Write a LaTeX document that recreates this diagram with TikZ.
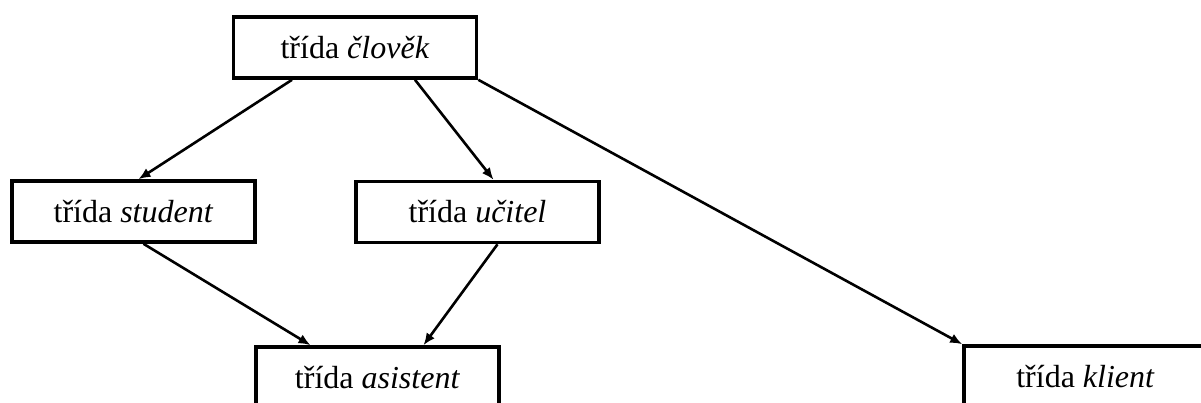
\documentclass[tikz,border=0pt]{standalone}
\usepackage{fontspec}
\setmainfont{Liberation Serif}
\usetikzlibrary{arrows.meta}
\begin{document}
\begin{tikzpicture}[x=1pt,y=-1pt,
  cls/.style={draw,line width=3.6pt,minimum width=243pt,minimum height=61pt,inner sep=0pt,
    font=\fontsize{32}{38}\selectfont},
  arr/.style={line width=2.6pt,-{Latex[length=12pt,width=10pt]}}]
\useasboundingbox (0,0) rectangle (1201,403);
\node[cls] (top) at (355,47.5) {třída \textit{člověk}};
\node[cls] (stu) at (133.5,211.5) {třída \textit{student}};
\node[cls] (uci) at (477.5,212) {třída \textit{učitel}};
\node[cls] (asi) at (377.5,377.5) {třída \textit{asistent}};
\node[cls] (kli) at (1085.5,376.5) {třída \textit{klient}};
\draw[arr] ([xshift=-63pt]top.south) -- ([xshift=5pt]stu.north);
\draw[arr] ([xshift=60pt]top.south) -- ([xshift=16pt]uci.north);
\draw[arr] (top.south east) -- (kli.north west);
\draw[arr] ([xshift=10pt]stu.south) -- ([xshift=-67pt]asi.north);
\draw[arr] ([xshift=20pt]uci.south) -- ([xshift=46pt]asi.north);
\end{tikzpicture}
\end{document}
